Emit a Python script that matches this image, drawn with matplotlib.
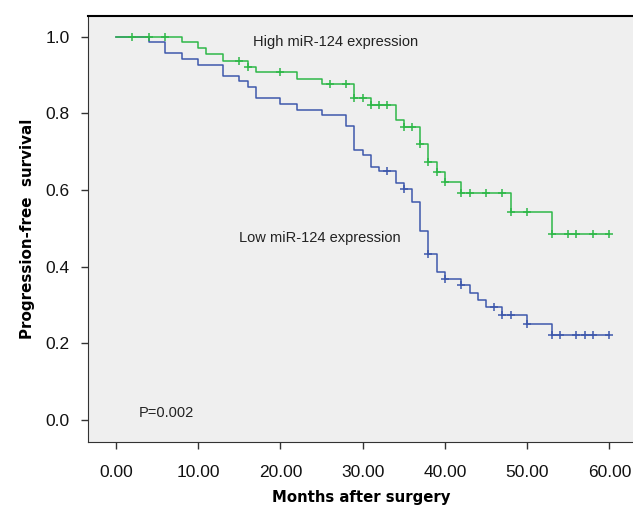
import numpy as np
import matplotlib
matplotlib.use("Agg")
import matplotlib.pyplot as plt

# Step data (month of drop, survival after drop)
high_t = [0, 8, 10, 11, 13, 16, 17, 22, 25, 29, 31, 34, 35, 37, 38, 39, 40, 42, 48, 53, 60]
high_s = [1.0, 0.985, 0.970, 0.955, 0.938, 0.922, 0.908, 0.891, 0.876, 0.840, 0.822,
          0.783, 0.764, 0.721, 0.674, 0.648, 0.620, 0.593, 0.544, 0.485, 0.485]
high_cens = [2, 4, 6, 15, 16, 20, 26, 28, 29, 30, 31, 32, 33, 35, 36, 37, 38, 39, 40,
             42, 43, 45, 47, 48, 50, 53, 55, 56, 58, 60]

low_t = [0, 4, 6, 8, 10, 13, 15, 16, 17, 20, 22, 25, 28, 29, 30, 31, 32, 34, 35, 36,
         37, 38, 39, 40, 42, 43, 44, 45, 47, 50, 53, 60]
low_s = [1.0, 0.985, 0.958, 0.942, 0.927, 0.897, 0.884, 0.868, 0.840, 0.825, 0.809,
         0.795, 0.766, 0.705, 0.692, 0.661, 0.649, 0.618, 0.603, 0.570, 0.494, 0.433,
         0.385, 0.368, 0.351, 0.331, 0.313, 0.294, 0.274, 0.250, 0.222, 0.222]
low_cens = [33, 35, 38, 40, 42, 46, 47, 48, 50, 53, 54, 56, 57, 58, 60]

x_ticks = [0, 10, 20, 30, 40, 50, 60]
y_ticks = [0.0, 0.2, 0.4, 0.6, 0.8, 1.0]

green = "#2eb848"
blue = "#3e58ac"


def surv_at(ts, ss, t):
    idx = np.searchsorted(ts, t, side="right") - 1
    return ss[idx]


fig = plt.figure(figsize=(6.33, 5.05), dpi=100)
ax = fig.add_axes([0.139, 0.1253, 0.8626, 0.8437])
ax.set_facecolor("#efefef")

ax.step(low_t, low_s, where="post", color=blue, lw=1.1)
ax.step(high_t, high_s, where="post", color=green, lw=1.1)

# censored cases
ax.plot(low_cens, [surv_at(low_t, low_s, c) for c in low_cens], "+",
        color=blue, ms=6, mew=1.1)
ax.plot(high_cens, [surv_at(high_t, high_s, c) for c in high_cens], "+",
        color=green, ms=6, mew=1.1)

ax.set_xlim(-3.4, 63.0)
ax.set_ylim(-0.0566, 1.055)
ax.set_xticks(x_ticks)
ax.set_xticklabels([f"{v:.2f}" for v in x_ticks])
ax.set_yticks(y_ticks)
ax.set_yticklabels([f"{v:.1f}" for v in y_ticks])

for lab in ax.get_xticklabels() + ax.get_yticklabels():
    lab.set_fontfamily("Liberation Sans")
    lab.set_fontsize(12.5)
    lab.set_color("#111111")
ax.tick_params(direction="out", length=5, width=1, color="#333333", pad=8)
ax.tick_params(axis="x", pad=12)

ax.spines["right"].set_visible(False)
ax.spines["top"].set_color("black")
ax.spines["top"].set_linewidth(1.5)
ax.spines["left"].set_color("#333333")
ax.spines["bottom"].set_color("#333333")

ax.set_xlabel("Months after surgery", fontfamily="DejaVu Sans", fontweight="bold",
              fontsize=10.7, labelpad=7)
ax.set_ylabel("Progression-free  survival", fontfamily="DejaVu Sans", fontweight="bold",
              fontsize=10.9, labelpad=8)

ax.text(16.7, 0.985, "High miR-124 expression", fontfamily="Liberation Sans",
        fontsize=10.5, va="center", ha="left", color="#222222")
ax.text(15.0, 0.475, "Low miR-124 expression", fontfamily="Liberation Sans",
        fontsize=10.5, va="center", ha="left", color="#222222")
ax.text(2.8, 0.018, "P=0.002", fontfamily="Liberation Sans", fontsize=10.5,
        va="center", ha="left", color="#222222")

fig.savefig("out.png", dpi=100)
